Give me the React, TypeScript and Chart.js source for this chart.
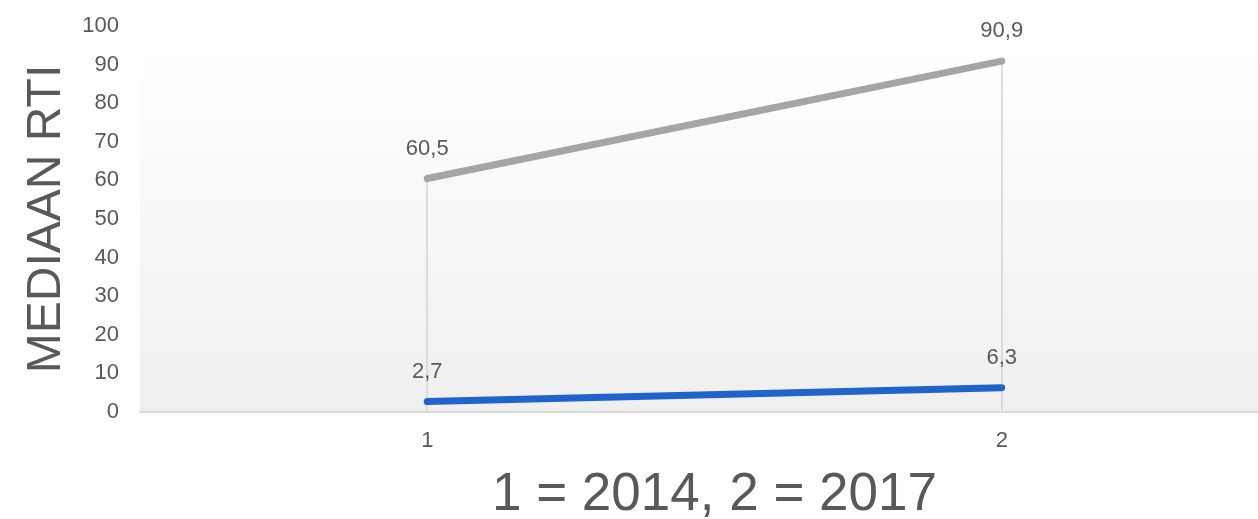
import React, { useEffect, useRef } from "react";
import { Chart, registerables } from "chart.js";

Chart.register(...registerables);

// Survey moments on the x axis (1 = 2014, 2 = 2017)
const moments = ["1", "2"];
// Median RTI per series
const upperSeries = [60.5, 90.9];
const lowerSeries = [2.7, 6.3];
// Y axis ticks
const yTicks = [0, 10, 20, 30, 40, 50, 60, 70, 80, 90, 100];

const TEXT = "#595959";
const FONT = "'Liberation Sans', Arial, sans-serif";

const fmt = (v: number) => v.toFixed(1).replace(".", ",");

// Soft vertical fill behind the plot area
const plotBackground = {
  id: "plotBackground",
  beforeDraw(chart: any) {
    const { ctx, chartArea } = chart;
    const g = ctx.createLinearGradient(0, chartArea.top, 0, chartArea.bottom);
    g.addColorStop(0, "#ffffff");
    g.addColorStop(0.12, "#fefefe");
    g.addColorStop(1, "#efefef");
    ctx.save();
    ctx.fillStyle = g;
    ctx.fillRect(chartArea.left, chartArea.top, chartArea.right - chartArea.left, chartArea.bottom - chartArea.top);
    ctx.restore();
  },
};

// Drop lines from the highest point of each moment down to the x axis
const dropLines = {
  id: "dropLines",
  beforeDatasetsDraw(chart: any) {
    const { ctx, scales } = chart;
    const x = scales.x;
    const y = scales.y;
    ctx.save();
    ctx.strokeStyle = "#dcdcdc";
    ctx.lineWidth = 2;
    moments.forEach((_, i) => {
      const top = Math.max(upperSeries[i], lowerSeries[i]);
      const px = Math.round(x.getPixelForValue(i));
      ctx.beginPath();
      ctx.moveTo(px, y.getPixelForValue(top));
      ctx.lineTo(px, y.getPixelForValue(0));
      ctx.stroke();
    });
    ctx.restore();
  },
};

// Value labels above every point
const valueLabels = {
  id: "valueLabels",
  afterDatasetsDraw(chart: any) {
    const { ctx } = chart;
    ctx.save();
    ctx.font = `22px ${FONT}`;
    ctx.fillStyle = TEXT;
    ctx.textAlign = "center";
    ctx.textBaseline = "middle";
    chart.data.datasets.forEach((ds: any, di: number) => {
      const meta = chart.getDatasetMeta(di);
      meta.data.forEach((pt: any, i: number) => {
        ctx.fillText(fmt(ds.data[i]), pt.x, pt.y - 30);
      });
    });
    ctx.restore();
  },
};

export default function App() {
  const ref = useRef<HTMLCanvasElement>(null);

  useEffect(() => {
    if (!ref.current) return;
    const chart = new Chart(ref.current, {
      type: "line",
      data: {
        labels: moments,
        datasets: [
          {
            label: "hoog",
            data: upperSeries,
            borderColor: "#a5a5a5",
            borderWidth: 7,
            borderCapStyle: "round",
            pointRadius: 0,
            tension: 0,
          },
          {
            label: "laag",
            data: lowerSeries,
            borderColor: "#1f63cc",
            borderWidth: 7,
            borderCapStyle: "round",
            pointRadius: 0,
            tension: 0,
          },
        ],
      },
      options: {
        animation: false,
        responsive: true,
        maintainAspectRatio: false,
        layout: { padding: { top: 26, left: 0, right: 0, bottom: 0 } },
        plugins: {
          legend: { display: false },
          tooltip: { enabled: false },
        },
        scales: {
          x: {
            type: "category",
            offset: true,
            afterFit: (scale: any) => {
              scale.height = 107;
            },
            grid: { display: false, drawTicks: false },
            border: { display: true, color: "#d9d9d9", width: 2 },
            ticks: {
              color: TEXT,
              font: { family: FONT, size: 22 },
              padding: 16,
            },
            title: {
              display: true,
              text: "1 = 2014, 2 = 2017",
              color: TEXT,
              font: { family: FONT, size: 53, lineHeight: 0.9 },
              padding: { top: 10, bottom: 0 },
            },
          },
          y: {
            min: 0,
            max: 100,
            afterBuildTicks: (scale: any) => {
              scale.ticks = yTicks.map((v) => ({ value: v }));
            },
            afterFit: (scale: any) => {
              scale.width = 140;
              scale.paddingTop = 0;
              scale.paddingBottom = 0;
            },
            grid: { display: false, drawTicks: false },
            border: { display: false },
            ticks: {
              color: TEXT,
              font: { family: FONT, size: 22 },
              padding: 21,
            },
            title: {
              display: true,
              text: "MEDIAAN RTI",
              color: TEXT,
              font: { family: FONT, size: 48, lineHeight: 1.2 },
              padding: { top: 18, bottom: 0 },
            },
          },
        },
      },
      plugins: [plotBackground, dropLines, valueLabels],
    });
    return () => chart.destroy();
  }, []);

  return (
    <div style={{ position: "fixed", left: 0, top: 0, width: 1258, height: 519, overflow: "hidden", background: "#ffffff" }}>
      <div style={{ position: "relative", width: 1289, height: 519 }}>
        <canvas ref={ref} />
      </div>
    </div>
  );
}
